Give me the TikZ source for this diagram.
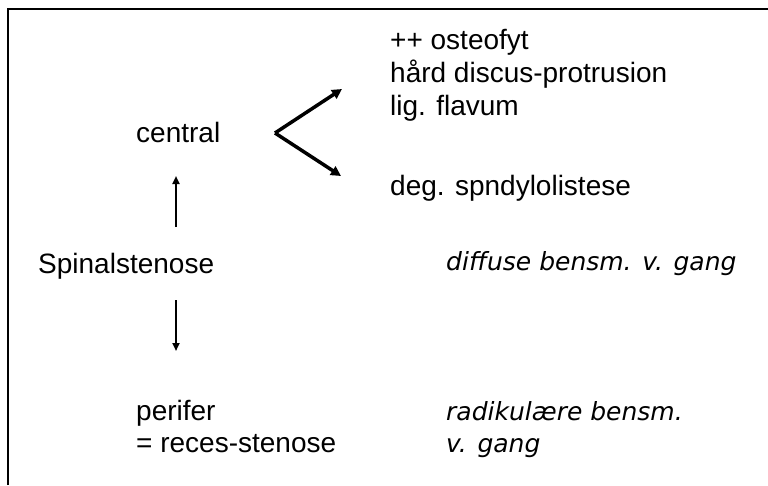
\documentclass[tikz,border=0pt]{standalone}
\usepackage{fontspec}
\setmainfont{Liberation Sans}
\newfontfamily\casual{DejaVu Sans}
\usetikzlibrary{arrows.meta}
\begin{document}
\begin{tikzpicture}[x=1pt,y=-1pt,
  txt/.style={anchor=base west,inner sep=0pt,font=\fontsize{28}{32}\selectfont},
  itxt/.style={anchor=base west,inner sep=0pt,font=\casual\itshape\fontsize{25}{32}\selectfont},
  thick arrow/.style={line width=3.5pt,-{Triangle[length=10pt,width=10pt]}},
  thin arrow/.style={line width=2.5pt,-{Triangle[length=8pt,width=7pt]}}]
\useasboundingbox (0,0) rectangle (768,485);
\draw[line width=2.5pt] (8,485) -- (8,9) -- (768,9);
\node[txt] (l1) at (390,49) {++ osteofyt};
\node[txt] (l2) at (390,82) {hård discus-protrusion};
\node[txt] (l3) at (390,115) {lig. flavum};
\node[txt] (central) at (136,142) {central};
\node[txt] (deg) at (390,195) {deg. spndylolistese};
\node[txt] (spinal) at (38,273) {Spinalstenose};
\node[itxt] (diffuse) at (446,270) {diffuse bensm. v. gang};
\node[txt] (perifer) at (136,420) {perifer};
\node[txt] (reces) at (136,452) {= reces-stenose};
\node[itxt] (radik) at (446,420) {radikulære bensm.};
\node[itxt] (vgang) at (446,452) {v. gang};
\coordinate (v) at (275,133);
\coordinate (t1) at (342,89);
\coordinate (t2) at (341,176);
\draw[thick arrow] (v) -- (t1);
\draw[thick arrow] (v) -- (t2);
\coordinate (ua) at (176,227);
\coordinate (ub) at (176,176);
\coordinate (da) at (176,300);
\coordinate (db) at (176,351);
\draw[thin arrow] (ua) -- (ub);
\draw[thin arrow] (da) -- (db);
\end{tikzpicture}
\end{document}
